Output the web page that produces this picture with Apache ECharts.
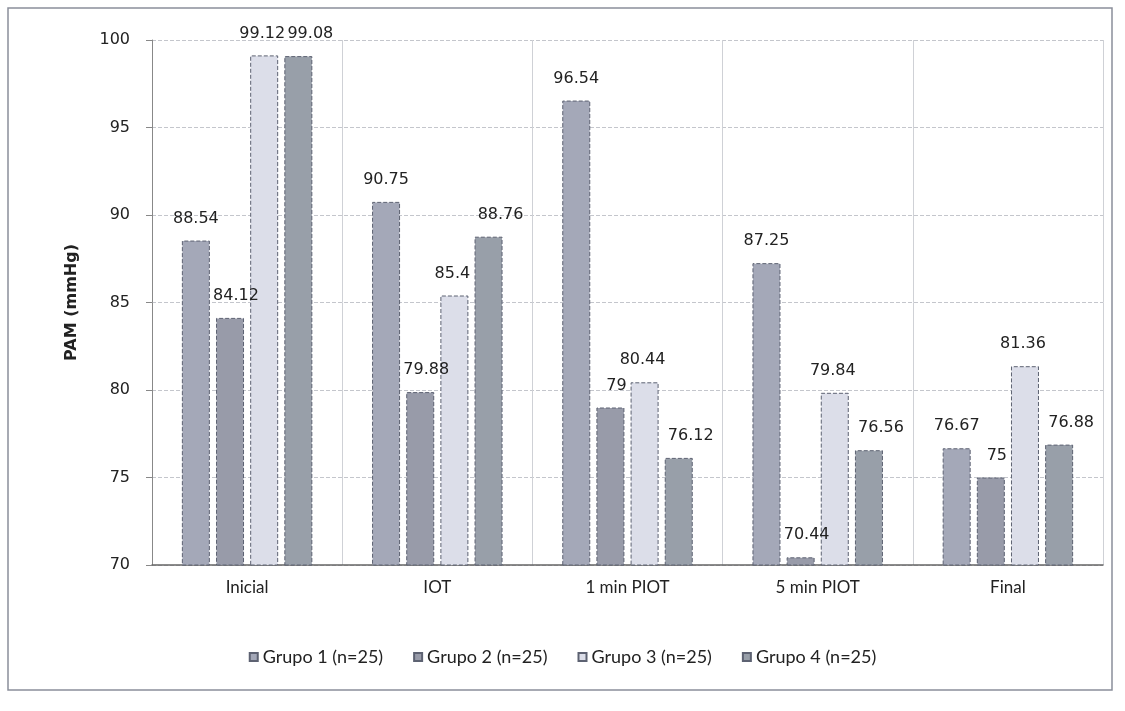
<!DOCTYPE html>
<html lang="es">
<head>
    <meta charset="utf-8">
    <title>PAM (mmHg)</title>
    <script src="https://cdn.jsdelivr.net/npm/echarts@6/dist/echarts.min.js"></script>
    <style>
        html, body { margin: 0; padding: 0; background: #fff; }
        #main { width: 1125px; height: 711px; }
    </style>
</head>
<body>
    <div id="main"></div>
    <script type="text/javascript">
        var categories = ['Inicial', 'IOT', '1 min PIOT', '5 min PIOT', 'Final'];
        var grupo1 = [88.54, 90.75, 96.54, 87.25, 76.67];
        var grupo2 = [84.12, 79.88, 79, 70.44, 75];
        var grupo3 = [99.12, 85.4, 80.44, 79.84, 81.36];
        var grupo4 = [99.08, 88.76, 76.12, 76.56, 76.88];
        var seriesNames = ['Grupo 1 (n=25)', 'Grupo 2 (n=25)', 'Grupo 3 (n=25)', 'Grupo 4 (n=25)'];

        var colors = ['#a4a8b8', '#989ba9', '#dcdee9', '#989fa9'];
        var font = 'DejaVu Sans';
        var font2 = 'Lato';

        function makeSeries(name, data, color, shift) {
            return {
                name: name,
                type: 'bar',
                data: data,
                barWidth: 28,
                barGap: '22%',
                itemStyle: {
                    color: color,
                    borderColor: '#5d6272',
                    borderWidth: 1,
                    borderType: 'dashed'
                },
                label: {
                    show: true,
                    position: 'top',
                    distance: 14,
                    offset: [shift, 0],
                    color: '#222',
                    fontFamily: font,
                    fontSize: 16
                }
            };
        }

        var myChart = echarts.init(document.getElementById('main'));
        myChart.setOption({
            animation: false,
            backgroundColor: '#fff',
            graphic: [{
                type: 'rect',
                shape: { x: 8, y: 8, width: 1104, height: 682 },
                style: { fill: 'none', stroke: '#8a8f9a', lineWidth: 1.5 }
            }],
            grid: { left: 152, right: 22, top: 40, bottom: 146 },
            legend: {
                bottom: 40,
                left: 'center',
                itemWidth: 8,
                itemHeight: 8,
                itemGap: 30,
                icon: 'rect',
                textStyle: { fontFamily: font2, fontSize: 18, color: '#222' },
                data: seriesNames
            },
            xAxis: {
                type: 'category',
                data: categories,
                axisLine: { lineStyle: { color: '#666', width: 1.5 } },
                axisTick: { show: false },
                axisLabel: { fontFamily: font2, fontSize: 17, color: '#222', margin: 14 },
                splitLine: { show: true, lineStyle: { color: '#cfd1d6' } }
            },
            yAxis: {
                type: 'value',
                min: 70,
                max: 100,
                interval: 5,
                name: 'PAM (mmHg)',
                nameLocation: 'middle',
                nameGap: 72,
                nameTextStyle: { fontFamily: font, fontSize: 16, fontWeight: 'bold', color: '#222' },
                axisLine: { show: true, lineStyle: { color: '#888' } },
                axisTick: { show: true, length: 6, lineStyle: { color: '#888' } },
                axisLabel: { fontFamily: font, fontSize: 16, color: '#222', margin: 22 },
                splitLine: { lineStyle: { color: '#c4c6cc', type: 'dashed' } }
            },
            series: [
                makeSeries(seriesNames[0], grupo1, colors[0], 0),
                makeSeries(seriesNames[1], grupo2, colors[1], 6),
                makeSeries(seriesNames[2], grupo3, colors[2], -2),
                makeSeries(seriesNames[3], grupo4, colors[3], 12)
            ]
        });
    </script>
</body>
</html>
